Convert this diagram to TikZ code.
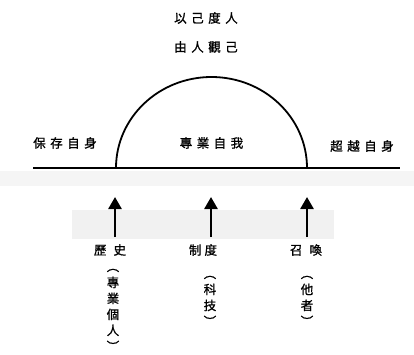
\documentclass[tikz,border=0pt]{standalone}
\usepackage{fontspec}
\newfontfamily\cjk{Noto Sans CJK TC}[FakeBold=1.2]
\usetikzlibrary{arrows.meta}
\definecolor{bandgray}{HTML}{F5F5F5}
\definecolor{boxgray}{HTML}{F1F1F1}
\tikzset{
  lbl/.style={font=\cjk\fontsize{12.5}{14}\selectfont, inner sep=0pt},
  vlbl/.style={font=\cjk\fontsize{12.5}{16}\selectfont, inner sep=0pt, align=center},
  uparrow/.style={line width=2.6pt, -{Triangle[width=13pt,length=12pt]}},
  ground/.style={line width=2.4pt},
  dome/.style={line width=1.8pt}
}
\newcommand{\gp}{\hspace{4.5pt}}
\begin{document}
\begin{tikzpicture}[x=1pt,y=1pt]
\useasboundingbox (0,0) rectangle (414,354);
% backgrounds
\fill[bandgray] (0,168) rectangle (414,183);
\fill[boxgray] (72,115) rectangle (334,144);
% ground line and dome
\coordinate (gl) at (33,186);
\coordinate (gr) at (400,186);
\coordinate (dl) at (116,186);
\draw[ground] (gl) -- (gr);
\draw[dome] (dl) arc[start angle=180, end angle=0, x radius=95.5, y radius=91];
% top texts
\node[lbl] (t1) at (206,336) {以\gp 己\gp 度\gp 人};
\node[lbl] (t2) at (206,307) {由\gp 人\gp 觀\gp 己};
% line texts
\node[lbl] (s1) at (65,211) {保\gp 存\gp 自\gp 身};
\node[lbl] (s2) at (211.5,211) {專\gp 業\gp 自\gp 我};
\node[lbl] (s3) at (362,208) {超\gp 越\gp 自\gp 身};
% bottom labels
\node[lbl] (b1) at (110,104) {歷\hspace{7pt}史};
\node[lbl] (b2) at (203,104) {制\hspace{3pt}度};
\node[lbl] (b3) at (306,104) {召\hspace{7pt}喚};
% arrows
\coordinate (a1b) at (115,117); \coordinate (a1t) at (115,157);
\coordinate (a2b) at (211,117); \coordinate (a2t) at (211,157);
\coordinate (a3b) at (307,117); \coordinate (a3t) at (307,157);
\draw[uparrow] (a1b) -- (a1t);
\draw[uparrow] (a2b) -- (a2t);
\draw[uparrow] (a3b) -- (a3t);
% vertical texts
\node[vlbl] (v1) at (113,44) {︵\\專\\業\\個\\人\\︶};
\node[vlbl] (v2) at (210,53) {︵\\科\\技\\︶};
\node[vlbl] (v3) at (307,53) {︵\\他\\者\\︶};
\end{tikzpicture}
\end{document}
